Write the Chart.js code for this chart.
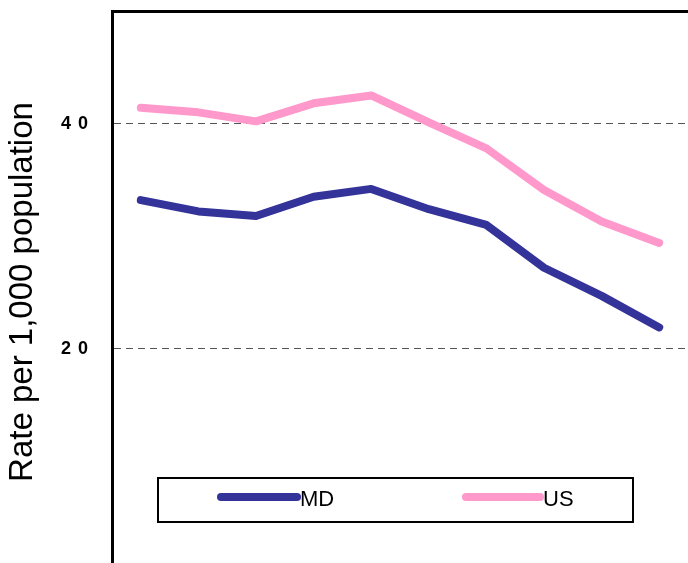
<!DOCTYPE html>
<html>
<head>
<meta charset="utf-8">
<script src="https://cdn.jsdelivr.net/npm/chart.js@4"></script>
<style>
  html, body { margin: 0; padding: 0; background: #fff; overflow: hidden; }
  #wrap { width: 688px; height: 563px; overflow: hidden; }
</style>
</head>
<body>
<div id="wrap"><canvas id="myChart" width="688" height="575"></canvas></div>
<script>
// Chart data
const periods = ["1", "2", "3", "4", "5", "6", "7", "8", "9", "10"];
const mdRates = [33.2, 32.2, 31.8, 33.5, 34.2, 32.4, 31.0, 27.2, 24.7, 21.9];
const usRates = [41.4, 41.0, 40.2, 41.8, 42.5, 40.1, 37.8, 34.1, 31.3, 29.4];
const yTickValues = [20, 40];
const yTitle = "Rate per 1,000 population";

const FONT = "'Liberation Sans', Arial, sans-serif";

// Title + boxed legend drawn on the canvas
const decorPlugin = {
  id: "decor",
  beforeDraw(chart) {
    chart.ctx.letterSpacing = "7px"; // spaced tick digits like the original
  },
  afterDraw(chart) {
    const ctx = chart.ctx;
    ctx.save();
    ctx.letterSpacing = "0px";

    // y axis title
    ctx.translate(23, 292);
    ctx.rotate(-Math.PI / 2);
    ctx.fillStyle = "#000";
    ctx.font = `33px ${FONT}`;
    ctx.textAlign = "center";
    ctx.textBaseline = "middle";
    ctx.fillText(yTitle, 0, 0);
    ctx.restore();

    // legend box
    ctx.save();
    ctx.letterSpacing = "0px";
    ctx.strokeStyle = "#000";
    ctx.lineWidth = 2;
    ctx.strokeRect(158, 478, 475, 44);
    const items = [
      { x: 221, len: 76 },
      { x: 466, len: 74 },
    ];
    chart.data.datasets.forEach((ds, i) => {
      const it = items[i];
      ctx.strokeStyle = ds.borderColor;
      ctx.lineWidth = 8;
      ctx.lineCap = "round";
      ctx.beginPath();
      ctx.moveTo(it.x, 497);
      ctx.lineTo(it.x + it.len, 497);
      ctx.stroke();
      ctx.fillStyle = "#000";
      ctx.font = `22px ${FONT}`;
      ctx.textBaseline = "middle";
      ctx.textAlign = "left";
      ctx.fillText(ds.label, it.x + it.len + 3, 500);
    });
    ctx.restore();
  },
};

new Chart(document.getElementById("myChart"), {
  type: "line",
  data: {
    labels: periods,
    datasets: [
      {
        label: "MD",
        data: mdRates,
        borderColor: "#333399",
        borderWidth: 8,
        borderCapStyle: "round",
        borderJoinStyle: "round",
        pointRadius: 0,
        tension: 0,
      },
      {
        label: "US",
        data: usRates,
        borderColor: "#FF99CC",
        borderWidth: 8,
        borderCapStyle: "round",
        borderJoinStyle: "round",
        pointRadius: 0,
        tension: 0,
      },
    ],
  },
  options: {
    responsive: false,
    animation: false,
    layout: { padding: { top: 11, bottom: 1, left: 0, right: 0 } },
    plugins: {
      legend: { display: false },
      tooltip: { enabled: false },
    },
    scales: {
      x: { display: false, offset: true },
      top: {
        type: "category",
        labels: periods,
        position: "top",
        offset: true,
        grid: { display: false, drawTicks: false, tickLength: 0 },
        ticks: { display: false, padding: 0 },
        border: { display: true, color: "#000", width: 3 },
        afterFit: (scale) => {
          scale.height = 0;
        },
      },
      y: {
        min: 0,
        max: 50,
        afterBuildTicks: (scale) => {
          scale.ticks = yTickValues.map((v) => ({ value: v }));
        },
        afterFit: (scale) => {
          scale.width = 112;
          scale.paddingTop = 0;
          scale.paddingBottom = 0;
        },
        grid: {
          color: "#555",
          lineWidth: 1,
          drawTicks: false,
          tickLength: 0,
        },
        border: { display: true, color: "#000", width: 3, dash: [7, 5] },
        ticks: {
          color: "#000",
          padding: 17,
          font: { family: FONT, size: 18, weight: "bold" },
        },
      },
    },
  },
  plugins: [decorPlugin],
});
</script>
</body>
</html>
